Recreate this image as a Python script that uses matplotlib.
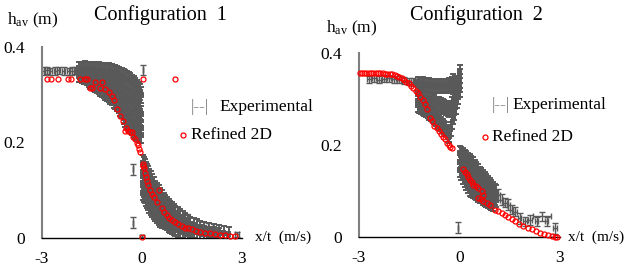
import matplotlib
matplotlib.use("Agg")
import matplotlib.pyplot as plt

plt.rcParams['font.family'] = ['Liberation Serif', 'DejaVu Serif']
plt.rcParams['mathtext.fontset'] = 'custom'
plt.rcParams['mathtext.rm'] = 'Liberation Serif'
plt.rcParams['mathtext.it'] = 'Liberation Serif:italic'

GRAY = '#595959'
RED = '#ff0000'

titles = ["Configuration  1", "Configuration  2"]
x_ticks = [-3, 0, 3]
x_ticklabels = ["-3", "0", "3"]
y_ticks = [0, 0.2, 0.4]
y_ticklabels = ["0", "0.2", "0.4"]

# ---------------- Configuration 1 ----------------
# Refined 2D
c1_ref_x = [-2.86, -2.74, -2.51, -2.21, -2.14, -1.86, -1.71, -1.65, -1.56, -1.51, -1.41, -1.26,
            -1.2, -1.11, -1.0, -0.9, -0.85, -0.75, -0.66, -0.57, -0.51, -0.48, -0.42, -0.36,
            -0.31, -0.26, -0.21, -0.16, -0.12, -0.09, -0.06, 0.02, 0.04, 0.06, 0.09, 0.12, 0.15,
            0.19, 0.24, 0.29, 0.36, 0.44, 0.52, 0.59, 0.66, 0.74, 0.81, 0.89, 0.99, 1.09, 1.19,
            1.29, 1.39, 1.49, 1.61, 1.74, 1.89, 2.04, 2.19, 2.34, 2.49, 2.64, 2.79,
            0.03, 1.0, -0.01]
c1_ref_h = [0.333, 0.333, 0.333, 0.333, 0.333, 0.333, 0.333, 0.333, 0.315, 0.315, 0.326, 0.315,
            0.326, 0.312, 0.305, 0.298, 0.29, 0.27, 0.256, 0.245, 0.225, 0.231, 0.225, 0.222,
            0.221, 0.212, 0.208, 0.2, 0.194, 0.187, 0.18, 0.156, 0.151, 0.146, 0.137, 0.128, 0.12,
            0.11, 0.101, 0.093, 0.085, 0.076, 0.1, 0.062, 0.055, 0.048, 0.042, 0.0375, 0.033, 0.0285, 0.025,
            0.0215, 0.02, 0.018, 0.015, 0.013, 0.011, 0.0098, 0.008, 0.006, 0.0055, 0.005, 0.005,
            0.333, 0.333, 0.003]

# Experimental: upstream plateau
c1_flat_x = [-2.95, -2.85, -2.75, -2.6, -2.5, -2.35, -2.2, -2.1, -2.0]
c1_flat_h = [0.35, 0.351, 0.349, 0.35, 0.351, 0.35, 0.349, 0.35, 0.351]
# Experimental: dense upstream cloud (one column of readings per x)
c1_up_x = [-1.9, -1.85, -1.8, -1.75, -1.7, -1.65, -1.6, -1.55, -1.5, -1.45, -1.4, -1.35,
           -1.3, -1.25, -1.2, -1.15, -1.1, -1.05, -1.0, -0.95, -0.9, -0.85, -0.8, -0.75,
           -0.7, -0.65, -0.6, -0.55, -0.5, -0.45, -0.4, -0.35, -0.3, -0.25, -0.2, -0.15,
           -0.1, -0.05, -0.02]
c1_up_h = [[0.352, 0.344], [0.351, 0.343], [0.352, 0.342], [0.352, 0.34], [0.353, 0.34],
           [0.352, 0.338], [0.352, 0.34, 0.333], [0.351, 0.336, 0.33], [0.352, 0.338, 0.328],
           [0.351, 0.335, 0.325], [0.352, 0.335, 0.322], [0.35, 0.332, 0.32], [0.351, 0.333, 0.318],
           [0.35, 0.33, 0.315], [0.35, 0.33, 0.312], [0.349, 0.327, 0.31], [0.35, 0.328, 0.307],
           [0.348, 0.325, 0.304], [0.349, 0.325, 0.302], [0.347, 0.322, 0.298], [0.347, 0.32, 0.295],
           [0.346, 0.318, 0.29], [0.345, 0.315, 0.287], [0.344, 0.312, 0.282], [0.342, 0.31, 0.278],
           [0.34, 0.305, 0.273], [0.338, 0.3, 0.268], [0.336, 0.3, 0.265, 0.255],
           [0.334, 0.295, 0.258, 0.25], [0.332, 0.292, 0.255, 0.245], [0.33, 0.29, 0.25, 0.24],
           [0.328, 0.288, 0.248, 0.236], [0.325, 0.285, 0.245, 0.232], [0.322, 0.282, 0.242, 0.228],
           [0.318, 0.28, 0.24, 0.225], [0.314, 0.275, 0.238, 0.222], [0.31, 0.27, 0.235, 0.218],
           [0.305, 0.265, 0.232, 0.216], [0.3, 0.26, 0.23, 0.215]]
# Experimental: dense downstream band
c1_dn_x = [0.02, 0.05, 0.08, 0.12, 0.15, 0.19, 0.22, 0.26, 0.3, 0.35, 0.4, 0.45, 0.5, 0.55,
           0.6, 0.65, 0.7, 0.75, 0.8, 0.85, 0.9, 0.95, 1.0, 1.08, 1.15, 1.22, 1.3, 1.38, 1.45,
           1.55, 1.65, 1.75, 1.85, 2.0, 2.15, 2.3, 2.45, 2.6]
c1_dn_h = [[0.158, 0.135, 0.11, 0.095], [0.155, 0.13, 0.105, 0.09], [0.15, 0.125, 0.1, 0.088],
           [0.145, 0.12, 0.095, 0.083], [0.14, 0.115, 0.09, 0.078], [0.135, 0.11, 0.085, 0.073],
           [0.13, 0.105, 0.08, 0.068], [0.125, 0.1, 0.075, 0.063], [0.12, 0.095, 0.07, 0.058],
           [0.112, 0.088, 0.064, 0.054], [0.105, 0.082, 0.058, 0.05], [0.1, 0.077, 0.054, 0.046],
           [0.095, 0.072, 0.05, 0.042], [0.09, 0.068, 0.046, 0.039], [0.085, 0.063, 0.042, 0.036],
           [0.08, 0.059, 0.038], [0.075, 0.055, 0.034], [0.071, 0.051, 0.031], [0.067, 0.047, 0.028],
           [0.063, 0.044, 0.025], [0.06, 0.041, 0.023], [0.056, 0.038, 0.021], [0.053, 0.036, 0.019],
           [0.049, 0.032, 0.017], [0.045, 0.029, 0.015], [0.041, 0.026, 0.013], [0.038, 0.023, 0.012],
           [0.034, 0.02, 0.011], [0.03, 0.018, 0.01], [0.027, 0.015], [0.024, 0.013], [0.021, 0.012],
           [0.019, 0.01], [0.017, 0.008], [0.014, 0.007], [0.012, 0.006], [0.01], [0.008]]
# Experimental: isolated points
c1_iso_x = [0.03, -0.27, -0.27, 0.0, 0.74, 1.04, 1.34, 1.99, 2.85]
c1_iso_h = [0.352, 0.144, 0.032, 0.003, 0.058, 0.055, 0.04, 0.021, 0.008]
c1_iso_herr = [0.01, 0.012, 0.012, 0.004, 0.01, 0.01, 0.01, 0.01, 0.005]
c1_iso_xerr = [0.0, 0.0, 0.0, 0.05, 0.05, 0.05, 0.05, 0.1, 0.05]

# ---------------- Configuration 2 ----------------
c2_ref_x = [-2.98, -2.92, -2.85, -2.78, -2.71, -2.64, -2.57, -2.5, -2.43, -2.36, -2.29, -2.22,
            -2.15, -2.08, -2.01, -1.94, -1.87, -1.8, -1.73, -1.66, -1.59, -1.52, -1.45, -1.38,
            -1.31, -1.24, -1.17, -1.1, -1.03, -0.96, -0.88, -0.82, -0.75, -0.68, -0.62, -0.56,
            -0.5, -0.44, -0.38, -0.32, -0.27, -0.23,
            0.11, 0.16, 0.21, 0.26, 0.31, 0.36, 0.41, 0.48, 0.56, 0.66, 0.71,
            0.56, 0.63, 0.71, 0.81, 0.91, 1.06, 1.16, 1.26, 1.36, 1.46, 1.56, 1.66, 1.78, 1.9,
            2.03, 2.16, 2.28, 2.4, 2.52, 2.65, 2.75, 2.85, 2.9]
c2_ref_h = [0.356, 0.356, 0.356, 0.356, 0.356, 0.356, 0.356, 0.356, 0.356, 0.356, 0.356, 0.355,
            0.355, 0.355, 0.354, 0.352, 0.35, 0.348, 0.345, 0.342, 0.338, 0.334, 0.329, 0.324,
            0.318, 0.312, 0.305, 0.297, 0.289, 0.278, 0.258, 0.252, 0.242, 0.236, 0.23, 0.225,
            0.218, 0.212, 0.204, 0.199, 0.196, 0.194,
            0.147, 0.141, 0.136, 0.13, 0.125, 0.12, 0.114, 0.11, 0.107, 0.1, 0.092,
            0.085, 0.082, 0.078, 0.074, 0.07, 0.059, 0.056, 0.052, 0.047, 0.043, 0.039, 0.034, 0.029, 0.024,
            0.02, 0.017, 0.013, 0.0095, 0.007, 0.0044, 0.003, 0.001, 0.001]

c2_flat_x = [-2.7, -2.55, -2.4, -2.25, -2.1, -1.95, -1.8, -1.65, -1.5, -1.4, -1.3]
c2_flat_h = [0.343, 0.345, 0.342, 0.344, 0.345, 0.343, 0.342, 0.34, 0.338, 0.337, 0.336]
c2_up_x = [-1.25, -1.2, -1.15, -1.1, -1.05, -1.0, -0.95, -0.9, -0.85, -0.8, -0.75, -0.7,
           -0.65, -0.6, -0.55, -0.5, -0.45, -0.4, -0.35, -0.3, -0.26, -0.22, -0.18, -0.15,
           -0.11, -0.08, -0.04, 0.0]
c2_up_h = [[0.333, 0.31, 0.286], [0.333, 0.308, 0.285], [0.332, 0.306, 0.282], [0.332, 0.305, 0.28],
           [0.331, 0.303, 0.278], [0.33, 0.302, 0.276], [0.33, 0.3, 0.273], [0.33, 0.3, 0.27],
           [0.329, 0.297, 0.267], [0.329, 0.295, 0.264], [0.328, 0.293, 0.26], [0.328, 0.29, 0.257],
           [0.328, 0.29, 0.253], [0.328, 0.29, 0.25], [0.328, 0.287, 0.246], [0.328, 0.285, 0.242],
           [0.328, 0.282, 0.238], [0.328, 0.28, 0.234], [0.329, 0.278, 0.228], [0.33, 0.275, 0.222, 0.22],
           [0.331, 0.28, 0.235], [0.332, 0.29, 0.25], [0.34, 0.295, 0.26], [0.333, 0.3, 0.27],
           [0.334, 0.308, 0.283], [0.335, 0.315, 0.295], [0.336, 0.32, 0.305],
           [0.36, 0.35, 0.34, 0.33, 0.32]]
c2_dn_x = [0.0, 0.05, 0.1, 0.15, 0.2, 0.25, 0.3, 0.35, 0.4, 0.45, 0.5, 0.55, 0.6, 0.65, 0.7,
           0.75, 0.8, 0.85, 0.9, 0.95, 1.0, 1.05, 1.1]
c2_dn_h = [[0.183, 0.163, 0.145], [0.18, 0.158, 0.138], [0.178, 0.155, 0.13], [0.175, 0.15, 0.124],
           [0.172, 0.146, 0.118], [0.168, 0.142, 0.11], [0.165, 0.138, 0.105], [0.162, 0.134, 0.102],
           [0.158, 0.13, 0.1], [0.153, 0.126, 0.097], [0.148, 0.122, 0.095], [0.143, 0.118, 0.092],
           [0.138, 0.115, 0.09], [0.134, 0.112, 0.088], [0.13, 0.108, 0.085], [0.126, 0.104, 0.082],
           [0.122, 0.1, 0.08], [0.118, 0.097, 0.078], [0.114, 0.095, 0.076], [0.11, 0.092, 0.074],
           [0.105, 0.088, 0.072], [0.1, 0.084], [0.098, 0.08]]
c2_iso_x = [1.16, 1.26, 1.36, 1.46, 1.56, 1.66, 1.8, 1.96, 2.1, 2.3, 2.45, 2.6, 2.85, -0.03]
c2_iso_h = [0.092, 0.081, 0.075, 0.07, 0.059, 0.055, 0.041, 0.034, 0.037, 0.034, 0.045, 0.034, 0.019, 0.02]
c2_iso_herr = [0.012, 0.012, 0.01, 0.012, 0.01, 0.01, 0.012, 0.01, 0.01, 0.01, 0.01, 0.01, 0.012, 0.012]
c2_iso_xerr = [0.05, 0.05, 0.05, 0.05, 0.05, 0.05, 0.05, 0.05, 0.05, 0.05, 0.27, 0.05, 0.05, 0.0]

W, H = 627, 269
fig = plt.figure(figsize=(W / 100, H / 100), dpi=100)


def columns(xs, hs):
    fx, fh = [], []
    for x, col in zip(xs, hs):
        for h in col:
            fx.append(x)
            fh.append(h)
    return fx, fh


def px_axes(left, right, bottom, top):
    return fig.add_axes([left / W, 1 - bottom / H, (right - left) / W, (bottom - top) / H])


def draw_panel(ax, title, ref_x, ref_h, groups, leg, lab_pos, title_x, xl_x):
    for gx, gh, gherr, gxerr, lw in groups:
        ax.errorbar(gx, gh, yerr=gherr, xerr=gxerr, fmt='none', ecolor=GRAY, elinewidth=lw,
                    capsize=2.2, capthick=lw, zorder=2)
    ax.plot(ref_x, ref_h, 'o', mfc='none', mec=RED, ms=3.6, mew=0.9, zorder=3, clip_on=False)
    ax.set_xlim(-3, 3)
    ax.set_ylim(0, 0.4)
    ax.set_xticks(x_ticks)
    ax.set_xticklabels(x_ticklabels)
    ax.set_yticks(y_ticks)
    ax.set_yticklabels(y_ticklabels)
    ax.tick_params(length=0, labelsize=12.5)
    ax.tick_params(axis='y', pad=12)
    ax.tick_params(axis='x', pad=9.5)
    for s in ['top', 'right']:
        ax.spines[s].set_visible(False)
    ax.spines['left'].set_color('#7f7f7f')
    ax.spines['left'].set_linewidth(1.5)
    ax.spines['bottom'].set_color('black')
    ax.spines['bottom'].set_linewidth(1.0)
    ax.patch.set_alpha(0)
    fig.text(title_x / W, 1 - 15 / H, title, ha='center', va='center', fontsize=14.5)
    fig.text(lab_pos[0] / W, 1 - lab_pos[1] / H, r'h$_{\mathrm{av}}$ (m)', ha='left', va='center', fontsize=12.5)
    fig.text(xl_x / W, 1 - 237 / H, 'x/t  (m/s)', ha='left', va='center', fontsize=11)
    (bx, by), (ex, ey), (cx, cy), (rx, ry) = leg
    fig.text(bx / W, 1 - by / H, '|--|', ha='left', va='center', fontsize=12.5, color='#7f7f7f')
    fig.text(ex / W, 1 - ey / H, 'Experimental', ha='left', va='center', fontsize=12.5)
    fig.lines.append(plt.Line2D([cx / W], [1 - cy / H], transform=fig.transFigure, marker='o',
                                mfc='none', mec=RED, ms=3.6, mew=0.9, ls='none'))
    fig.text(rx / W, 1 - ry / H, 'Refined 2D', ha='left', va='center', fontsize=12.5)


ax1 = px_axes(42, 242, 238, 47)
c1_upx, c1_uph = columns(c1_up_x, c1_up_h)
c1_dnx, c1_dnh = columns(c1_dn_x, c1_dn_h)
draw_panel(ax1, titles[0], c1_ref_x, c1_ref_h,
           [(c1_flat_x, c1_flat_h, 0.008, 0.05, 1.0),
            (c1_upx, c1_uph, 0.017, 0.045, 1.4),
            (c1_dnx, c1_dnh, 0.015, 0.05, 1.4),
            (c1_iso_x, c1_iso_h, c1_iso_herr, c1_iso_xerr, 1.0)],
           [(191, 107), (219, 107), (183, 135), (191, 135)], (7, 20), 160, 255)

ax2 = px_axes(359, 560, 237, 53)
c2_upx, c2_uph = columns(c2_up_x, c2_up_h)
c2_dnx, c2_dnh = columns(c2_dn_x, c2_dn_h)
draw_panel(ax2, titles[1], c2_ref_x, c2_ref_h,
           [(c2_flat_x, c2_flat_h, 0.008, 0.06, 1.0),
            (c2_upx, c2_uph, 0.015, 0.045, 1.4),
            (c2_dnx, c2_dnh, 0.015, 0.05, 1.4),
            (c2_iso_x, c2_iso_h, c2_iso_herr, c2_iso_xerr, 1.0)],
           [(492, 105), (512, 105), (485, 137), (492, 137)], (326, 28), 476, 568)

fig.savefig('out.png', dpi=100)
